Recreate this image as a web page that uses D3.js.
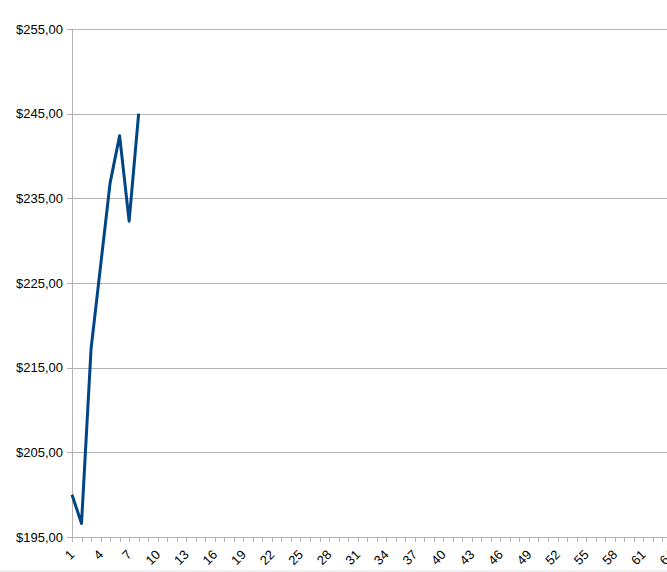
<!DOCTYPE html>
<html>
<head>
<meta charset="utf-8">
<script src="https://cdn.jsdelivr.net/npm/d3@7"></script>
<style>
html,body{margin:0;padding:0;background:#fff;overflow:hidden;}
svg{display:block;}
text{font-family:"Liberation Sans",Arial,sans-serif;}
</style>
</head>
<body>
<svg id="chart" width="667" height="572"></svg>
<script>
const categories = d3.range(1, 65);           // 1 .. 64
const values = [200.0, 196.6, 217.2, 227.0, 236.8, 242.4, 232.3, 245.0];
const yTicks = [195, 205, 215, 225, 235, 245, 255];
const xLabelEvery = 3;

(function () {
const W = 667, H = 572;
const mLeft = 72, mTop = 29, mBottom = 537;
const step = 9.52;
const mRight = mLeft + (categories.length - 1) * step;

const svg = d3.select("#chart");
svg.append("rect").attr("width", W).attr("height", H).attr("fill", "#fff");
svg.append("rect").attr("x", 0).attr("y", 570).attr("width", W).attr("height", 2).attr("fill", "#efefef");

const x = d3.scalePoint().domain(categories).range([mLeft, mRight]);
const y = d3.scaleLinear().domain([195, 255]).range([mBottom, mTop]);
const fmt = v => "$" + d3.format(".2f")(v).replace(".", ",");

// gridlines
svg.append("g")
  .selectAll("line").data(yTicks).join("line")
  .attr("x1", mLeft - 5).attr("x2", W + 10)
  .attr("y1", d => Math.round(y(d)) + 0.5).attr("y2", d => Math.round(y(d)) + 0.5)
  .attr("stroke", "#b3b3b3").attr("stroke-width", 1);

// y axis line
svg.append("line")
  .attr("x1", mLeft + 0.5).attr("x2", mLeft + 0.5)
  .attr("y1", mTop).attr("y2", mBottom + 5)
  .attr("stroke", "#b3b3b3");

// y labels
svg.append("g")
  .selectAll("text").data(yTicks).join("text")
  .attr("x", mLeft - 9).attr("y", d => y(d))
  .attr("dy", "0.35em")
  .attr("text-anchor", "end")
  .attr("font-size", 13)
  .attr("fill", "#000")
  .text(fmt);

// x axis ticks
svg.append("g")
  .selectAll("line").data(categories).join("line")
  .attr("x1", d => Math.round(x(d)) + 0.5).attr("x2", d => Math.round(x(d)) + 0.5)
  .attr("y1", mBottom).attr("y2", mBottom + 5)
  .attr("stroke", "#b3b3b3");

// x labels
svg.append("g")
  .selectAll("text").data(categories.filter((d, i) => i % xLabelEvery === 0)).join("text")
  .attr("transform", d => `translate(${x(d) - 3},${mBottom + 12}) rotate(-45)`)
  .attr("text-anchor", "end")
  .attr("dy", "0.7em")
  .attr("font-size", 13)
  .attr("fill", "#000")
  .text(d => d);

// line
const line = d3.line().x((d, i) => x(categories[i])).y(d => y(d));
svg.append("path")
  .datum(values)
  .attr("d", line)
  .attr("fill", "none")
  .attr("stroke", "#004586")
  .attr("stroke-width", 3)
  .attr("stroke-linejoin", "round");
})();
</script>
</body>
</html>
